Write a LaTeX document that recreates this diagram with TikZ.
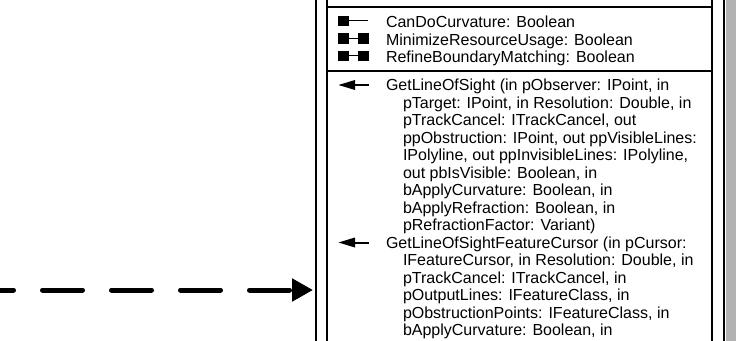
\documentclass[tikz,border=0pt]{standalone}
\usepackage{fontspec}
\setmainfont{Liberation Sans}
\usetikzlibrary{arrows.meta}
\tikzset{
  frameline/.style={line width=1.7pt, black},
  iconfill/.style={fill=black, draw=none},
  iconline/.style={line width=1.3pt, black},
  methline/.style={line width=2pt, black},
  lbl/.style={anchor=base west, inner sep=0pt, outer sep=0pt, font=\fontsize{16}{17.5}\selectfont},
  depend/.style={line width=5pt, line cap=round, dash pattern=on 40pt off 29pt,
    -{Triangle[length=21pt,width=22pt]}},
}
\begin{document}
\begin{tikzpicture}[x=1pt,y=-1pt]
\useasboundingbox (0,0) rectangle (751,340);
\clip (0,0) rectangle (751,340);
% shadow
\fill[black!30] (725.5,-20) rectangle (736,360);
% outer frame
\draw[frameline] (315.7,-20) -- (315.7,360);
\draw[frameline] (724,-20) -- (724,360);
% inner frame
\draw[frameline] (327.3,-20) -- (327.3,360);
\draw[frameline] (712.2,-20) -- (712.2,360);
\draw[frameline] (327.3,7) -- (712.2,7);
\draw[frameline] (327.3,71) -- (712.2,71);
% attribute icons
\fill[iconfill] (338,15.5) rectangle (349,26);
\draw[iconline] (349,20.7) -- (368,20.7);
\fill[iconfill] (338,33) rectangle (349,43.5);
\fill[iconfill] (358,33) rectangle (369,43.5);
\draw[iconline] (349,38.2) -- (358,38.2);
\fill[iconfill] (338,50.5) rectangle (349,61);
\fill[iconfill] (358,50.5) rectangle (369,61);
\draw[iconline] (349,55.7) -- (358,55.7);
% method icons
\draw[methline] (353,85) -- (369,85);
\fill[iconfill] (338.5,85) -- (355,80) -- (355,90) -- cycle;
\draw[methline] (353,242.5) -- (369,242.5);
\fill[iconfill] (338.5,242.5) -- (355,237.5) -- (355,247.5) -- cycle;
% attributes
\node[lbl] (a1) at (386,27.5) {CanDoCurvature: Boolean};
\node[lbl] (a2) at (386,45) {MinimizeResourceUsage: Boolean};
\node[lbl] (a3) at (386,62.5) {RefineBoundaryMatching: Boolean};
% methods
\node[lbl] (m1) at (386,90.5) {GetLineOfSight (in pObserver: IPoint, in};
\node[lbl] (m2) at (403,108) {pTarget: IPoint, in Resolution: Double, in};
\node[lbl] (m3) at (403,125.5) {pTrackCancel: ITrackCancel, out};
\node[lbl] (m4) at (403,143) {ppObstruction: IPoint, out ppVisibleLines:};
\node[lbl] (m5) at (403,160.5) {IPolyline, out ppInvisibleLines: IPolyline,};
\node[lbl] (m6) at (403,178) {out pbIsVisible: Boolean, in};
\node[lbl] (m7) at (403,195.5) {bApplyCurvature: Boolean, in};
\node[lbl] (m8) at (403,213) {bApplyRefraction: Boolean, in};
\node[lbl] (m9) at (403,230.5) {pRefractionFactor: Variant)};
\node[lbl] (n1) at (386,248) {GetLineOfSightFeatureCursor (in pCursor:};
\node[lbl] (n2) at (403,265.5) {IFeatureCursor, in Resolution: Double, in};
\node[lbl] (n3) at (403,283) {pTrackCancel: ITrackCancel, in};
\node[lbl] (n4) at (403,300.5) {pOutputLines: IFeatureClass, in};
\node[lbl] (n5) at (403,318) {pObstructionPoints: IFeatureClass, in};
\node[lbl] (n6) at (403,335.5) {bApplyCurvature: Boolean, in};
% dependency arrow
\coordinate (src) at (-26.5,290);
\coordinate (dst) at (313,290);
\draw[depend] (src) -- (dst);
\end{tikzpicture}
\end{document}
